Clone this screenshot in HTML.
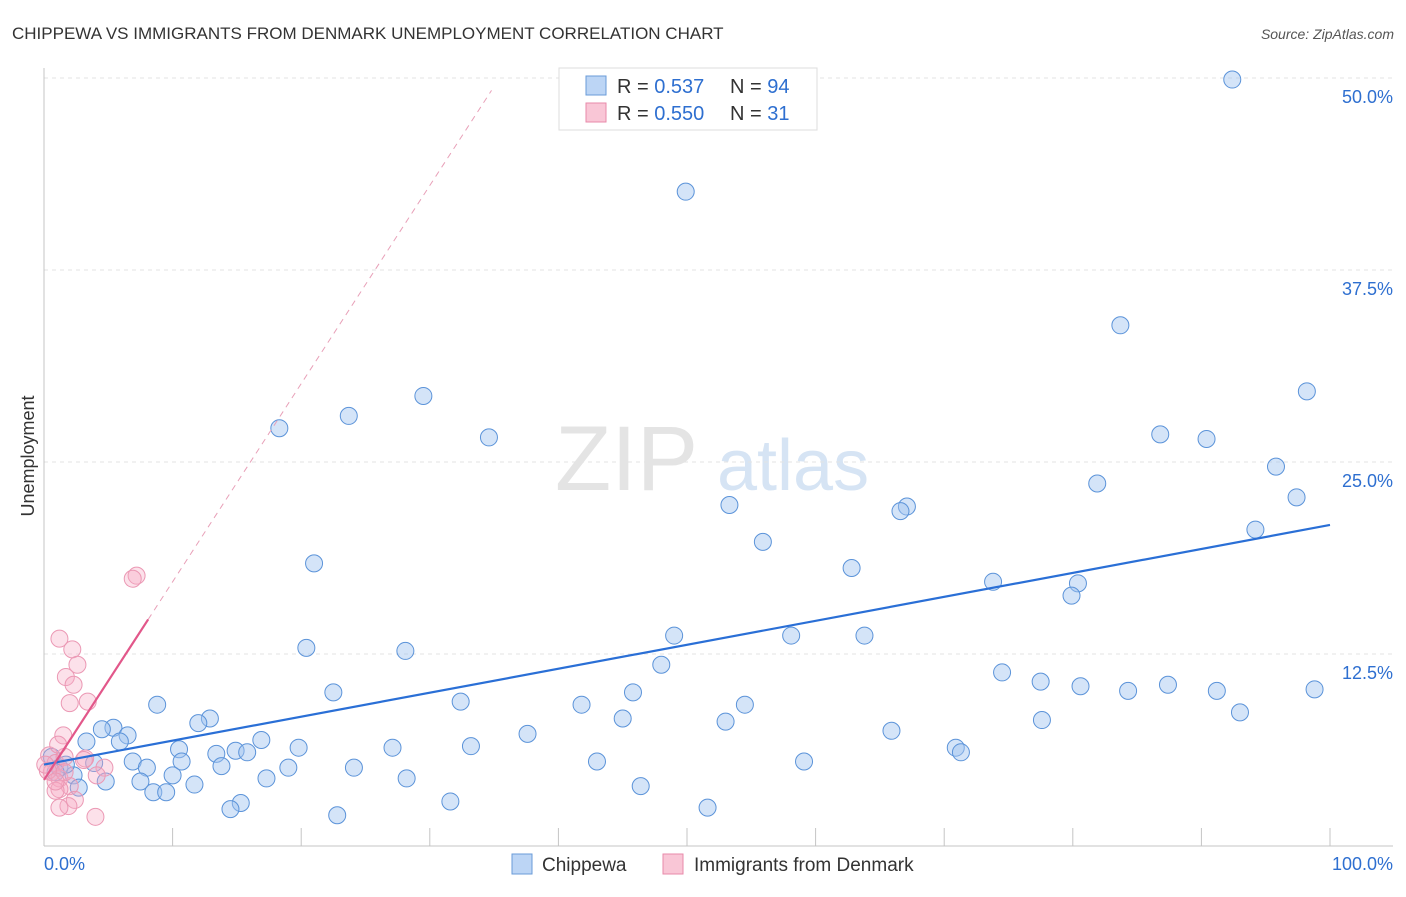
<!DOCTYPE html>
<html><head><meta charset="utf-8"><style>
body{margin:0;background:#fff;font-family:"Liberation Sans",sans-serif;}
svg text{font-family:"Liberation Sans",sans-serif;}
</style></head><body>
<svg id="chart" width="1406" height="892" xmlns="http://www.w3.org/2000/svg">
<text x="12" y="39" font-size="17" fill="#333">CHIPPEWA VS IMMIGRANTS FROM DENMARK UNEMPLOYMENT CORRELATION CHART</text>
<text x="1394" y="39" font-size="14" fill="#555" font-style="italic" text-anchor="end">Source: ZipAtlas.com</text>
<text x="34" y="456" font-size="18" fill="#333" text-anchor="middle" transform="rotate(-90 34 456)">Unemployment</text>
<g>
<text x="555" y="490" font-size="92" fill="#e4e4e4" font-family="Liberation Serif">ZIP</text>
<text x="717" y="490" font-size="72" fill="#d6e4f4">atlas</text>
</g>
<g id="grid"></g><g id="axes"></g><g id="marks"></g>
<g>
<rect x="559" y="68" width="258" height="62" fill="#fff" stroke="#ddd"/>
<rect x="586" y="76" width="20" height="19" fill="#bcd5f5" stroke="#6a9bd8"/>
<rect x="586" y="103" width="20" height="19" fill="#f9c6d6" stroke="#e88aaa"/>
<text x="617" y="93" font-size="20" fill="#333">R = <tspan fill="#2e6fd0">0.537</tspan></text>
<text x="730" y="93" font-size="20" fill="#333">N = <tspan fill="#2e6fd0">94</tspan></text>
<text x="617" y="120" font-size="20" fill="#333">R = <tspan fill="#2e6fd0">0.550</tspan></text>
<text x="730" y="120" font-size="20" fill="#333">N = <tspan fill="#2e6fd0"> 31</tspan></text>
</g>
<g>
<rect x="512" y="854" width="20" height="20" fill="#bcd5f5" stroke="#6a9bd8"/>
<text x="542" y="871" font-size="19" fill="#333">Chippewa</text>
<rect x="663" y="854" width="20" height="20" fill="#f9c6d6" stroke="#e88aaa"/>
<text x="694" y="871" font-size="19" fill="#333">Immigrants from Denmark</text>
</g>
</svg>
<script>
const yTicks=[12.5,25,37.5,50];
const yTickLabels=["12.5%","25.0%","37.5%","50.0%"];
const xTickVals=[10,20,30,40,50,60,70,80,90,100];
const blueX=[92.4,49.9,83.7,98.2,29.5,23.7,18.3,34.6,86.8,90.4,95.8,81.9,97.4,53.3,67.1,66.6,94.2,55.9,21.0,62.8,73.8,80.4,79.9,49.0,58.1,63.8,20.4,28.1,48.0,74.5,77.5,80.6,87.4,84.3,91.2,98.8,22.5,45.8,8.8,32.4,41.8,54.5,93.0,12.9,12.0,45.0,53.0,77.6,5.4,4.5,6.5,65.9,37.6,5.9,3.3,16.9,19.8,27.1,33.2,10.5,13.4,14.9,15.8,70.9,71.3,6.9,10.7,13.8,43.0,59.1,8.0,19.0,24.1,3.9,10.0,2.3,17.3,28.2,7.5,4.8,2.7,11.7,46.4,8.5,9.5,15.3,31.6,14.5,51.6,22.8,0.6,1.2,1.7,0.9];
const blueY=[49.9,42.6,33.9,29.6,29.3,28.0,27.2,26.6,26.8,26.5,24.7,23.6,22.7,22.2,22.1,21.8,20.6,19.8,18.4,18.1,17.2,17.1,16.3,13.7,13.7,13.7,12.9,12.7,11.8,11.3,10.7,10.4,10.5,10.1,10.1,10.2,10.0,10.0,9.2,9.4,9.2,9.2,8.7,8.3,8.0,8.3,8.1,8.2,7.7,7.6,7.2,7.5,7.3,6.8,6.8,6.9,6.4,6.4,6.5,6.3,6.0,6.2,6.1,6.4,6.1,5.5,5.5,5.2,5.5,5.5,5.1,5.1,5.1,5.4,4.6,4.6,4.4,4.4,4.2,4.2,3.8,4.0,3.9,3.5,3.5,2.8,2.9,2.4,2.5,2.0,5.8,5.1,5.3,4.8];
const pinkX=[7.2,6.9,1.2,2.2,2.6,1.7,2.3,3.4,2.0,1.5,3.2,0.4,0.9,1.6,4.7,4.1,0.6,1.2,2.0,1.2,0.9,2.4,1.9,4.0,3.1,1.6,0.3,0.9,1.2,0.1,1.1];
const pinkY=[17.6,17.4,13.5,12.8,11.8,11.0,10.5,9.4,9.3,7.2,5.7,5.9,5.4,5.8,5.1,4.6,4.8,4.4,3.9,3.7,3.6,3.0,2.6,1.9,5.6,4.8,4.9,4.2,2.5,5.3,6.6];
const blueTrend=[0,5.3,100,20.9];
const pinkTrend=[0,4.3,8.1,34.8];
const pinkSlope=1.29;

const NS="http://www.w3.org/2000/svg";
const X=v=>44+v*12.86, Y=v=>846-v*15.36;
function mk(tag,attrs,parent){const e=document.createElementNS(NS,tag);for(const k in attrs)e.setAttribute(k,attrs[k]);parent.appendChild(e);return e;}
const grid=document.getElementById('grid'),axes=document.getElementById('axes'),marks=document.getElementById('marks');
yTicks.forEach((t,i)=>{
 const l=mk('line',{x1:44,x2:1393,y1:Y(t),y2:Y(t),stroke:'#e3e3e3','stroke-dasharray':'4,4'},grid);
 
 
 const tx=mk('text',{x:1393,y:Y(t)+25,'font-size':18,fill:'#2e6fd0','text-anchor':'end'},axes);
 tx.textContent=yTickLabels[i];
 
 
});
mk('line',{x1:44,x2:44,y1:68,y2:846,stroke:'#c4c4c4'},axes);
mk('line',{x1:44,x2:1393,y1:846,y2:846,stroke:'#c4c4c4'},axes);
xTickVals.forEach(v=>{
 const t=mk('line',{x1:X(v),x2:X(v),y1:828,y2:846,stroke:'#c4c4c4'},axes);
 
 
});
const x0=mk('text',{x:44,y:870,'font-size':18,fill:'#2e6fd0'},axes);x0.textContent='0.0%';


const x1=mk('text',{x:1393,y:870,'font-size':18,fill:'#2e6fd0','text-anchor':'end'},axes);x1.textContent='100.0%';


blueX.forEach((v,i)=>{
 const c=mk('circle',{cx:X(v),cy:Y(blueY[i]),r:8.5,fill:'rgba(160,196,240,0.45)',stroke:'#5b93d9','stroke-width':1},marks);
 
 
});
pinkX.forEach((v,i)=>{
 const c=mk('circle',{cx:X(v),cy:Y(pinkY[i]),r:8.5,fill:'rgba(245,170,195,0.35)',stroke:'#eb98b4','stroke-width':1},marks);
 
 
});
const bl=mk('line',{x1:X(blueTrend[0]),y1:Y(blueTrend[1]),x2:X(blueTrend[2]),y2:Y(blueTrend[3]),stroke:'#2a6fd6','stroke-width':2.2},marks);


const pl=mk('line',{x1:X(pinkTrend[0]),y1:Y(pinkTrend[1]),x2:X(pinkTrend[2]),y2:Y(pinkTrend[1]+pinkSlope*pinkTrend[2]),stroke:'#e2578a','stroke-width':2.2},marks);


const pd=mk('line',{x1:X(pinkTrend[2]),y1:Y(pinkTrend[1]+pinkSlope*pinkTrend[2]),x2:X(pinkTrend[3]),y2:Y(pinkTrend[1]+pinkSlope*pinkTrend[3]),stroke:'#e8a0b8','stroke-width':1,'stroke-dasharray':'6,5'},marks);


</script>
</body></html>
